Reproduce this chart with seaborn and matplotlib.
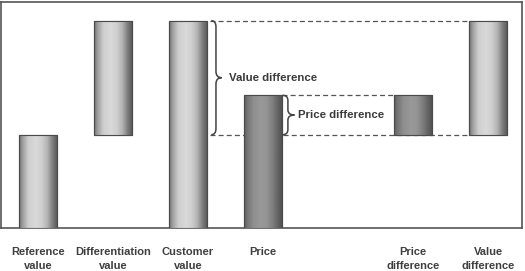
import numpy as np
import pandas as pd
import matplotlib
matplotlib.use("Agg")
import matplotlib.pyplot as plt
from matplotlib.path import Path
from matplotlib.patches import PathPatch
import seaborn as sns

# ---- data ----
categories = ["Reference\nvalue", "Differentiation\nvalue", "Customer\nvalue",
              "Price", "Price\ndifference", "Value\ndifference"]
bar_bottoms = [0, 45, 0, 0, 45, 45]
bar_tops = [45, 100, 100, 64, 64, 100]
dark_bars = [False, False, False, True, True, False]
order = ["Reference\nvalue", "Differentiation\nvalue", "Customer\nvalue",
         "Price", " ", "Price\ndifference", "Value\ndifference"]
reference_level = 45
customer_value = 100
price_value = 64

sns.set_theme(style="white")
plt.rcParams["font.family"] = ["Liberation Sans", "DejaVu Sans"]

df = pd.DataFrame({"category": categories, "top": bar_tops,
                   "bottom": bar_bottoms, "dark": dark_bars})

fig = plt.figure(figsize=(5.25, 2.71), dpi=100)
ax = fig.add_axes([1 / 525, 43 / 271, 521 / 525, 226 / 271])

sns.barplot(data=df, x="category", y="top", order=order, width=0.5,
            color="#cccccc", ax=ax, errorbar=None, zorder=3)

light_t = [0, 0.08, 0.25, 0.45, 0.6, 0.75, 0.88, 1]
light_v = [0.42, 0.60, 0.81, 0.85, 0.81, 0.70, 0.50, 0.36]
dark_v = [0.36, 0.45, 0.56, 0.60, 0.58, 0.50, 0.40, 0.32]
tt = np.linspace(0, 1, 200)

for p in list(ax.patches):
    cx = p.get_x() + p.get_width() / 2
    idx = int(round(cx))
    cat = order[idx]
    row = df[df["category"] == cat].iloc[0]
    p.set_y(row["bottom"])
    p.set_height(row["top"] - row["bottom"])
    p.set_edgecolor("#4a4a4a")
    p.set_linewidth(0.8)
    vals = np.interp(tt, light_t, dark_v if row["dark"] else light_v)
    img = np.tile(vals, (2, 1))
    x0, w = p.get_x(), p.get_width()
    im = ax.imshow(img, cmap="gray", vmin=0, vmax=1, aspect="auto",
                   extent=(x0, x0 + w, row["bottom"], row["top"]),
                   zorder=3.5, interpolation="bilinear")
    im.set_clip_path(p)
    p2 = plt.Rectangle((x0, row["bottom"]), w, row["top"] - row["bottom"],
                       fill=False, edgecolor="#4a4a4a", linewidth=0.8, zorder=4)
    ax.add_patch(p2)

pos = {c: i for i, c in enumerate(order)}
cust_r = pos["Customer\nvalue"] + 0.25
price_r = pos["Price"] + 0.25
pdiff_l = pos["Price\ndifference"] - 0.25
vdiff_l = pos["Value\ndifference"] - 0.25

dash = dict(color="#555555", linewidth=0.9, linestyles=(0, (4, 2.5)), zorder=2)
ax.hlines(customer_value, cust_r + 0.05, vdiff_l, **dash)
ax.hlines(reference_level, cust_r + 0.05, vdiff_l, **dash)
ax.hlines(price_value, price_r, pdiff_l, **dash)


def brace(x0, y0, y1, w, r, color="#444444"):
    xs = x0 + w * 0.45
    xt = x0 + w
    ym = (y0 + y1) / 2
    verts = [(x0, y1), (xs, y1), (xs, y1 - r),
             (xs, ym + r), (xs, ym), (xt, ym),
             (xs, ym), (xs, ym - r),
             (xs, y0 + r), (xs, y0), (x0, y0)]
    codes = [Path.MOVETO, Path.CURVE3, Path.CURVE3,
             Path.LINETO, Path.CURVE3, Path.CURVE3,
             Path.CURVE3, Path.CURVE3,
             Path.LINETO, Path.CURVE3, Path.CURVE3]
    ax.add_patch(PathPatch(Path(verts, codes), fill=False, edgecolor=color,
                           linewidth=1.1, zorder=5))


brace(cust_r + 0.06, reference_level, customer_value, 0.14, 3.0)
brace(price_r + 0.01, reference_level, price_value, 0.16, 2.5)

txt = dict(fontsize=8.2, fontweight="bold", color="#3a3a3a", va="center", ha="left")
ax.text(cust_r + 0.30, (reference_level + customer_value) / 2, "Value difference", **txt)
ax.text(price_r + 0.22, (reference_level + price_value) / 2, "Price difference", **txt)

ax.set_xlim(-0.493, 6.453)
ax.set_ylim(0, 109)
ax.set_yticks([])
ax.set_xlabel("")
ax.set_ylabel("")
ax.tick_params(axis="x", length=0, pad=14)
for lab in ax.get_xticklabels():
    lab.set_fontsize(8)
    lab.set_fontweight("bold")
    lab.set_color("#3f3f3f")
    lab.set_linespacing(1.45)
for s in ax.spines.values():
    s.set_visible(True)
    s.set_color("#555555")
    s.set_linewidth(1.2)

fig.savefig("out.png", dpi=100, facecolor="white")
